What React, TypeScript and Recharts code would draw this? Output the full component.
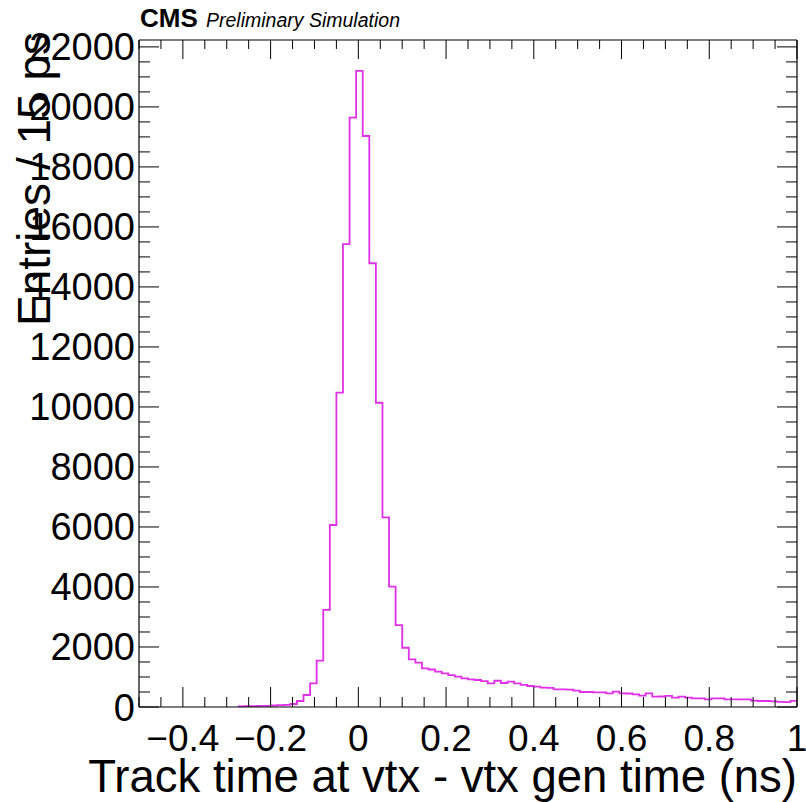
import React from 'react';
import { LineChart, Line, XAxis, YAxis } from 'recharts';

// Histogram: 100 bins of 15 ps from -0.5 ns to 1.0 ns
const binLow = -0.5;
const binWidth = 0.015;
const xMax = 1.0;

const counts: (number | null)[] = [
  null, null, null, null, null, null, null, null, null, null,
  null, null, null, null, null, 20, 30, 30, 40, 40,
  50, 60, 70, 100, 200, 400, 790, 1545, 3240, 6065,
  10480, 15430, 19640, 21200, 19030, 14790, 10140, 6320, 4010, 2730,
  1975, 1590, 1480, 1290, 1250, 1180, 1120, 1065, 1010, 955,
  920, 900, 865, 790, 875, 800, 845, 790, 735, 700,
  680, 645, 640, 590, 590, 580, 545, 500, 500, 490,
  490, 456, 510, 456, 450, 420, 380, 456, 345, 350,
  370, 311, 344, 311, 290, 290, 256, 290, 290, 256,
  256, 256, 256, 211, 200, 200, 190, 170, 160, 205,
];

const xMajorTicks = [-0.4, -0.2, 0, 0.2, 0.4, 0.6, 0.8, 1];
const xTickLabels = ['\u22120.4', '\u22120.2', '0', '0.2', '0.4', '0.6', '0.8', '1'];
const xMinorTicks = [
  -0.5, -0.45, -0.35, -0.3, -0.25, -0.15, -0.1, -0.05, 0.05, 0.1, 0.15, 0.25, 0.3,
  0.35, 0.45, 0.5, 0.55, 0.65, 0.7, 0.75, 0.85, 0.9, 0.95,
];
const yMajorTicks = [0, 2000, 4000, 6000, 8000, 10000, 12000, 14000, 16000, 18000, 20000, 22000];
const yTickLabels = ['0', '2000', '4000', '6000', '8000', '10000', '12000', '14000', '16000', '18000', '20000', '22000'];
const yMinorTicks = [
  500, 1000, 1500, 2500, 3000, 3500, 4500, 5000, 5500, 6500, 7000, 7500, 8500, 9000, 9500,
  10500, 11000, 11500, 12500, 13000, 13500, 14500, 15000, 15500, 16500, 17000, 17500,
  18500, 19000, 19500, 20500, 21000, 21500,
];
const yMax = 22230;

const xTitle = 'Track time at vtx - vtx gen time (ns)';
const yTitle = 'Entries / 15 ps';

const data = counts.map((v, i) => ({ t: Math.round((binLow + i * binWidth) * 1000) / 1000, v }));
data.push({ t: xMax, v: counts[counts.length - 1] });

const allXTicks = [...xMinorTicks, ...xMajorTicks].sort((a, b) => a - b);
const allYTicks = [...yMinorTicks, ...yMajorTicks].sort((a, b) => a - b);

const FONT = '"Liberation Sans", Arial, Helvetica, sans-serif';
const majorIdxX = (v: number) => xMajorTicks.findIndex((m) => Math.abs(m - v) < 1e-6);
const majorIdxY = (v: number) => yMajorTicks.findIndex((m) => Math.abs(m - v) < 1e-6);

function BottomTick(props: any) {
  const { x, y, payload } = props;
  const idx = majorIdxX(payload.value);
  const major = idx >= 0;
  return (
    <g>
      <line x1={x} x2={x} y1={y} y2={y - (major ? 20 : 10)} stroke="#000" strokeWidth={1} />
      {major && (
        <text x={x} y={y + 44} textAnchor="middle" fontSize={37} fontFamily={FONT} fill="#000">
          {xTickLabels[idx]}
        </text>
      )}
    </g>
  );
}

function TopTick(props: any) {
  const { x, y, payload } = props;
  const major = majorIdxX(payload.value) >= 0;
  return <line x1={x} x2={x} y1={y} y2={y + (major ? 19 : 9)} stroke="#000" strokeWidth={1} />;
}

function LeftTick(props: any) {
  const { x, y, payload } = props;
  const idx = majorIdxY(payload.value);
  const major = idx >= 0;
  return (
    <g>
      <line x1={x} x2={x + (major ? 20 : 11)} y1={y} y2={y} stroke="#000" strokeWidth={1} />
      {major && (
        <text x={x - 4} y={y + 13.5} textAnchor="end" fontSize={38} fontFamily={FONT} fill="#000">
          {yTickLabels[idx]}
        </text>
      )}
    </g>
  );
}

function RightTick(props: any) {
  const { x, y, payload } = props;
  const major = majorIdxY(payload.value) >= 0;
  return <line x1={x} x2={x - (major ? 20 : 11)} y1={y} y2={y} stroke="#000" strokeWidth={1} />;
}

export default function App() {
  return (
    <div style={{ position: 'absolute', left: 0, top: 0, width: 806, height: 802, background: '#fff' }}>
      <LineChart
        width={806}
        height={802}
        data={data}
        margin={{ top: 39, right: 8, bottom: 94, left: 138 }}
      >
        <XAxis
          xAxisId="b"
          dataKey="t"
          type="number"
          domain={[-0.5, 1]}
          allowDataOverflow
          ticks={allXTicks}
          interval={0}
          height={1}
          tickSize={0}
          tickMargin={0}
          tickLine={false}
          axisLine={{ stroke: '#000', strokeWidth: 1.2 }}
          tick={<BottomTick />}
        />
        <XAxis
          xAxisId="top"
          orientation="top"
          dataKey="t"
          type="number"
          domain={[-0.5, 1]}
          allowDataOverflow
          ticks={allXTicks}
          interval={0}
          height={1}
          tickSize={0}
          tickMargin={0}
          tickLine={false}
          axisLine={{ stroke: '#000', strokeWidth: 1.2 }}
          tick={<TopTick />}
        />
        <YAxis
          yAxisId="l"
          type="number"
          domain={[0, yMax]}
          allowDataOverflow
          ticks={allYTicks}
          interval={0}
          width={1}
          tickSize={0}
          tickMargin={0}
          tickLine={false}
          axisLine={{ stroke: '#000', strokeWidth: 1.2 }}
          tick={<LeftTick />}
        />
        <YAxis
          yAxisId="r"
          orientation="right"
          type="number"
          domain={[0, yMax]}
          allowDataOverflow
          ticks={allYTicks}
          interval={0}
          width={1}
          tickSize={0}
          tickMargin={0}
          tickLine={false}
          axisLine={{ stroke: '#000', strokeWidth: 1.2 }}
          tick={<RightTick />}
        />
        <Line
          xAxisId="b"
          yAxisId="l"
          type="stepAfter"
          dataKey="v"
          stroke="#e030e8"
          strokeWidth={1.8}
          dot={false}
          activeDot={false}
          connectNulls={false}
          isAnimationActive={false}
        />
      </LineChart>
      <svg
        width={806}
        height={802}
        style={{ position: 'absolute', left: 0, top: 0, pointerEvents: 'none' }}
      >
        <text x={140} y={27} fontSize={26} fontWeight="bold" fontFamily={FONT} fill="#000">
          CMS
        </text>
        <text x={206} y={27} fontSize={19.5} fontStyle="italic" fontFamily={FONT} fill="#000">
          Preliminary Simulation
        </text>
        <text x={797} y={792} textAnchor="end" fontSize={45.5} fontFamily={FONT} fill="#000">
          {xTitle}
        </text>
        <text
          transform="translate(50,32) rotate(-90)"
          textAnchor="end"
          fontSize={46}
          fontFamily={FONT}
          fill="#000"
        >
          {yTitle}
        </text>
      </svg>
    </div>
  );
}
